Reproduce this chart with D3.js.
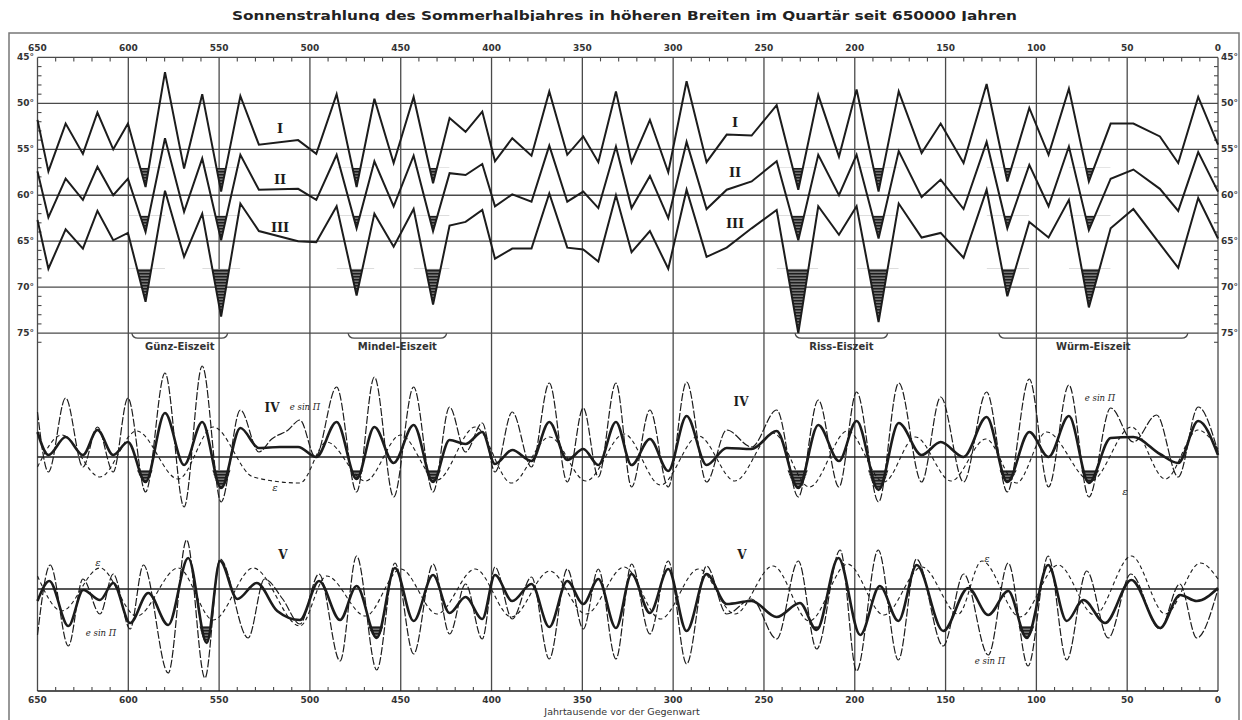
<!DOCTYPE html>
<html><head><meta charset="utf-8">
<script src="https://cdn.jsdelivr.net/npm/d3@7"></script>
<style>body{margin:0;background:#fff}svg{display:block}</style>
</head><body>
<script>
// ages (thousand years before present) of the vertices of curves I-III
const ages = [650,644,634.5,625,617,608.3,600.2,590.5,579.8,569.3,559.3,548.9,538.3,528.1,506.5,496.5,
  485.3,474.3,464.5,453.9,442.9,432.2,423.1,414.3,405.1,398.1,388.6,378.0,368.2,358.3,349.5,341.2,331.5,
  322.9,312.8,302.7,292.6,281.6,270.5,256.8,243.0,231.1,220.1,208.7,199.0,186.9,175.8,
  163.2,152.7,140.1,127.4,116.0,103.9,93.3,82.1,71.1,59.1,46.6,32.0,21.9,10.9,0];
// equivalent latitude of summer radiation, curves I, II, III
const latI = [51.8,57.4,52.2,55.5,51.0,55.0,52.2,59.1,46.6,57.1,49.0,59.6,49.2,54.5,54.0,55.5,
  49.0,59.1,49.5,56.5,49.3,58.7,51.6,53.1,50.9,56.3,53.8,55.7,48.7,55.6,53.6,56.4,48.7,
  56.4,51.8,57.5,47.6,56.4,53.4,53.5,50.2,59.4,49.1,55.8,48.5,59.6,48.7,
  55.4,52.2,56.5,47.9,58.5,50.5,55.6,48.4,58.5,52.2,52.2,53.6,56.5,49.3,54.5];
const latII = [57.4,62.4,58.2,60.5,56.9,60.0,58.2,64.0,53.8,61.8,56.0,64.9,55.6,59.4,59.3,60.5,
  55.6,63.6,56.3,61.2,55.7,63.9,57.6,57.8,56.6,61.2,59.9,60.7,54.6,60.7,59.6,61.4,54.7,
  61.4,57.9,62.5,54.2,61.5,59.4,58.5,56.3,64.9,55.6,60.0,55.6,64.7,55.2,
  60.2,58.3,61.5,54.2,63.6,56.7,61.2,54.7,63.8,58.2,57.2,59.3,61.7,55.3,59.6];
const latIII = [62.7,68.0,63.7,65.8,61.7,64.9,64.1,71.6,59.5,66.7,62.0,73.2,60.9,63.9,65.0,65.1,
  61.2,70.9,62.0,65.6,61.5,71.9,63.3,62.9,61.6,66.9,65.8,65.8,59.8,65.7,65.9,67.2,60.0,
  66.2,63.9,68.0,59.4,66.7,65.7,63.6,61.6,75.0,61.2,64.3,61.2,73.8,60.9,
  64.6,64.1,66.8,59.4,71.0,62.9,64.6,60.5,72.2,63.6,61.5,65.3,67.9,60.3,64.7];
// radiation minima of the ice ages (hatched)
const coldMinima = [590.5,548.9,474.3,432.2,231.1,186.9,116.0,71.1];
const hatchLevel = [57.0, 62.2, 68.0];
const curveNames = ["I","II","III"];

const ageTicks = [650,600,550,500,450,400,350,300,250,200,150,100,50,0];
const latTicks = [45,50,55,60,65,70,75];

const glacials = ["Günz-Eiszeit","Mindel-Eiszeit","Riss-Eiszeit","Würm-Eiszeit"];
const glacialFrom = [598.1,479.0,232.9,120.7];
const glacialTo = [545.3,424.7,181.9,16.6];

// panel IV: combined term (thick), e sin Π term, ε term  — [age, deviation]
const ivCombined = [[650,2.5],[644,0.2],[634.5,2.0],[625,0.2],[617,2.7],[608.3,0.2],[600.2,1.5],[590.5,-2.5],
  [579.8,4.4],[569.3,-0.8],[559.3,3.5],[548.9,-3.1],[538.3,2.9],[528.1,0.9],[516.5,1.0],[506.5,1.0],[496.5,0.0],
  [485.3,3.5],[474.3,-2.2],[464.5,3.0],[453.9,-0.6],[442.9,3.2],[432.2,-2.5],[423.1,1.7],[414.3,1.3],[405.1,2.5],
  [398.1,-0.7],[388.6,0.7],[378.0,-0.4],[368.2,3.5],[358.3,-0.3],[349.5,0.8],[341.2,-0.8],[331.5,3.5],
  [322.9,-0.8],[312.8,1.8],[302.7,-1.4],[292.6,4.1],[281.6,-0.8],[270.5,0.9],[256.8,0.8],[243.0,2.6],
  [231.1,-3.1],[220.1,3.2],[208.7,-0.4],[199.0,3.6],[186.9,-3.3],[175.8,3.4],[163.2,0.2],[152.7,1.5],
  [140.1,0.0],[127.4,4.0],[116.0,-2.5],[103.9,2.5],[93.3,0.0],[82.1,4.1],[71.1,-2.6],[59.1,1.9],[46.6,2.0],
  [32.0,0.3],[21.9,-0.6],[10.9,3.6],[0,0.2]];
const ivEsinPi = [[650,4.5],[644,-1.5],[634.5,5.9],[625,-1.0],[617,3.0],[608.3,-1.5],[600.2,5.9],[590.5,-3.5],
  [579.8,8.4],[569.3,-5.0],[559.3,9.1],[548.9,-4.5],[538.3,4.7],[528.1,0.5],[521,1.8],[512,2.7],[505.5,3.7],
  [497,0.0],[485.3,7.0],[474.3,-3.5],[464.5,8.0],[453.9,-4.0],[442.9,7.0],[432.2,-3.5],[423.1,5.0],[414.3,0.5],
  [405.1,3.4],[398.1,-1.5],[388.6,4.5],[378.0,-1.0],[368.2,7.4],[358.3,-2.5],[349.5,4.9],[341.2,-2.0],
  [331.5,7.4],[322.9,-3.0],[312.8,4.7],[302.7,-3.0],[292.6,7.5],[281.6,-2.5],[270.5,2.7],[256.8,1.0],
  [243.0,4.7],[231.1,-4.0],[220.1,5.7],[208.7,-3.0],[199.0,6.5],[186.9,-4.5],[175.8,7.4],[163.2,-2.5],
  [152.7,6.0],[140.1,-2.5],[127.4,6.5],[116.0,-3.5],[103.9,7.8],[93.3,-3.0],[82.1,7.2],[71.1,-4.0],
  [59.1,4.9],[46.6,1.5],[33.8,4.2],[21.9,-2.0],[10.9,5.0],[0,0.5]];
const ivEps = [[650,-1.0],[636.7,2.2],[615.6,-2.0],[595.4,2.6],[572.5,-2.2],[553.2,3.0],[531.2,-2.0],
  [505.5,-2.6],[490.8,1.5],[469.4,-2.4],[450,2.2],[430,-2.3],[409,3.0],[389,-2.6],[368,2.0],[348,-2.4],
  [327,2.3],[307,-2.8],[286,2.1],[266,-2.4],[245,2.4],[225,-3.0],[204,2.6],[184,-2.5],[166.6,2.0],[147,-2.4],
  [127.8,1.8],[111,-2.6],[94.4,2.5],[70,-2.4],[47.7,3.0],[29,-2.2],[11,2.7],[0,0.8]];

// panel V: combined term (thick), e sin Π term, ε term
const vCombined = [[650,-1.2],[643.5,0.8],[633,-3.7],[624.8,-0.1],[615.6,-1.1],[608.3,0.6],[599,-3.4],
  [589,-0.4],[578,-3.6],[567,3.1],[556.8,-5.4],[549.5,2.8],[540,-1.0],[529.3,0.6],[518,-2.2],[505.5,-3.1],
  [495,0.8],[483.4,-3.1],[474.3,0.3],[463.2,-4.9],[453.2,2.1],[442.9,-3.2],[432.2,1.4],[423.1,-2.4],
  [414.3,-0.8],[405.1,-3.0],[398.1,1.4],[388.6,-1.2],[378.0,0.5],[368.2,-3.8],[358.3,0.8],[349.5,-1.5],
  [341.2,1.0],[331.5,-3.9],[322.9,1.5],[312.8,-2.4],[302.7,2.0],[292.6,-4.2],[281.6,1.5],[270.5,-1.5],
  [256.8,-1.2],[243.0,-2.8],[230.2,-1.4],[221,-4.1],[209,3.1],[197,-4.6],[186.2,0.3],[176,-3.2],[165.9,2.4],
  [151.3,-4.2],[137.5,0.1],[126.5,-2.6],[115.5,-0.2],[105.3,-4.9],[93.5,2.4],[83.3,-3.2],[74.1,-1.1],
  [62.2,-3.4],[47.7,0.9],[31.9,-3.9],[20.9,-0.6],[11.7,-1.2],[0,0.1]];
const vEsinPi = [[650,-4.6],[643,2.4],[633,-5.7],[625,1.0],[615.6,-2.5],[608.3,1.5],[599,-4.0],[591.7,2.4],
  [578,-8.4],[567.9,4.9],[557.8,-8.9],[549.5,3.0],[534,-4.9],[525,1.0],[515,-1.0],[505.5,-3.5],[495,1.5],
  [483.4,-7.2],[474.3,3.3],[463.2,-8.1],[453.2,2.6],[442.9,-6.5],[432.2,2.5],[423.1,-4.5],[414.3,0.5],
  [405.1,-5.0],[398.1,2.2],[388.6,-3.0],[378.0,1.2],[368.2,-7.0],[358.3,2.0],[349.5,-4.0],[341.2,2.0],
  [331.5,-7.0],[322.9,2.5],[312.8,-4.5],[302.7,2.8],[292.6,-7.5],[281.6,2.3],[270.5,-2.5],[256.8,-1.0],
  [243.0,-5.0],[231.1,2.8],[221,-6.0],[208,3.9],[199,-8.2],[187.1,3.9],[176,-7.1],[166,3.0],[151.3,-5.7],
  [140,1.5],[126.5,-6.6],[115.5,2.6],[104.6,-7.7],[93.5,3.3],[83.3,-7.1],[72.3,1.8],[60.4,-4.9],[48,1.5],
  [32,-4.0],[21,0.5],[11.7,-4.9],[0,0.0]];
const vEps = [[650,1.3],[636.7,-2.2],[615.6,2.1],[595.4,-2.7],[572.5,2.1],[553.2,-3.1],[531.2,2.1],
  [505.5,-3.7],[490.8,1.3],[469.4,-2.7],[450,2.0],[430,-2.5],[409,2.0],[389,-2.8],[368,1.8],[348,-2.5],
  [327,2.2],[307,-3.0],[286,2.0],[266,-2.5],[245,2.3],[225,-3.2],[204,2.5],[184,-2.6],[163,2.2],[143,-2.5],
  [130,2.8],[109,-2.8],[88,2.4],[68,-2.6],[47.7,3.3],[29,-2.5],[9.7,2.6],[0,1.0]];
const vColdMinima = [556.8,463.2,221,105.3];
const ivHatchLevel = -1.3, vHatchLevel = -3.7;

const W = 1242, H = 720;
const svg = d3.select("body").append("svg").attr("width", W).attr("height", H)
  .style("font-family", "'DejaVu Sans', sans-serif");

const x = d3.scaleLinear().domain([650, 0]).range([37.5, 1218]);
const yLat = d3.scaleLinear().domain([45, 75]).range([57.4, 333.1]);
const yIV = d3.scaleLinear().domain([-10, 10]).range([557, 357]);
const yV = d3.scaleLinear().domain([-10, 10]).range([689, 489]);
const yBottom = 691;
const ink = "#1c1c1c", grid = "#4a4a4a";

// hatch pattern for the cold minima
const defs = svg.append("defs");
const pat = defs.append("pattern").attr("id", "hatch").attr("patternUnits", "userSpaceOnUse")
  .attr("width", 6).attr("height", 3);
pat.append("rect").attr("width", 6).attr("height", 3).attr("fill", "#777");
pat.append("rect").attr("width", 6).attr("height", 1.5).attr("fill", "#1e1e1e");

// outer frame
svg.append("rect").attr("x", 9).attr("y", 33).attr("width", 1230).attr("height", 700)
  .attr("fill", "none").attr("stroke", "#777").attr("stroke-width", 1.5);

// title
defs.append("clipPath").attr("id", "titleClip").append("rect")
  .attr("x", 0).attr("y", 0).attr("width", W).attr("height", 21);
svg.append("text").attr("x", 232).attr("y", 20).attr("clip-path", "url(#titleClip)")
  .attr("textLength", 785).attr("lengthAdjust", "spacingAndGlyphs")
  .style("font-size", "13px").style("font-weight", "600").attr("fill", "#222")
  .text("Sonnenstrahlung des Sommerhalbjahres in höheren Breiten im Quartär seit 650000 Jahren");

const g = svg.append("g");

// vertical grid lines every 50 000 years
g.selectAll("line.v").data(ageTicks).join("line")
  .attr("x1", d => x(d)).attr("x2", d => x(d)).attr("y1", yLat(45)).attr("y2", yBottom)
  .attr("stroke", grid).attr("stroke-width", 1.3);
// latitude lines
g.selectAll("line.h").data(latTicks).join("line")
  .attr("x1", x(650)).attr("x2", x(0)).attr("y1", d => yLat(d)).attr("y2", d => yLat(d))
  .attr("stroke", grid).attr("stroke-width", 1.3);
// zero lines of IV and V, bottom axis
[yIV(0), yV(0), yBottom].forEach(yy => g.append("line").attr("x1", x(650)).attr("x2", x(0))
  .attr("y1", yy).attr("y2", yy).attr("stroke", ink).attr("stroke-width", 1.4));

// minor ticks
const minorAges = d3.range(640, 0, -10).filter(d => d % 50 !== 0);
g.selectAll("line.tt").data(minorAges).join("line")
  .attr("x1", d => x(d)).attr("x2", d => x(d)).attr("y1", yLat(45)).attr("y2", yLat(45) + 4)
  .attr("stroke", grid).attr("stroke-width", 1.1);
g.selectAll("line.tb").data(minorAges).join("line")
  .attr("x1", d => x(d)).attr("x2", d => x(d)).attr("y1", yBottom).attr("y2", yBottom - 4)
  .attr("stroke", grid).attr("stroke-width", 1.1);
const minorLat = d3.range(46, 77).filter(d => d % 5 !== 0);
g.selectAll("line.tl").data(minorLat).join("line")
  .attr("x1", x(650)).attr("x2", x(650) + 4).attr("y1", d => yLat(d)).attr("y2", d => yLat(d))
  .attr("stroke", grid).attr("stroke-width", 1.1);
g.selectAll("line.tr").data(minorLat).join("line")
  .attr("x1", x(0) - 4).attr("x2", x(0)).attr("y1", d => yLat(d)).attr("y2", d => yLat(d))
  .attr("stroke", grid).attr("stroke-width", 1.1);

// age labels, top and bottom
const labStyle = sel => sel.style("font-size", "9px").attr("fill", "#333").style("font-weight", "bold");
g.selectAll("text.at").data(ageTicks).join("text").attr("x", d => x(d)).attr("y", 51)
  .attr("text-anchor", "middle").text(d => d).call(labStyle);
g.selectAll("text.ab").data(ageTicks).join("text").attr("x", d => x(d)).attr("y", 703)
  .attr("text-anchor", "middle").text(d => d).call(labStyle);
g.selectAll("text.ll").data(latTicks).join("text").attr("x", 34).attr("y", d => yLat(d) + 3)
  .attr("text-anchor", "end").text(d => d + "°").call(labStyle);
g.selectAll("text.lr").data(latTicks).join("text").attr("x", 1221).attr("y", d => yLat(d) + 3)
  .attr("text-anchor", "start").text(d => d + "°").call(labStyle);
svg.append("text").attr("x", 622).attr("y", 715).attr("text-anchor", "middle")
  .style("font-size", "9.5px").attr("fill", "#333").text("Jahrtausende vor der Gegenwart");

// glacial brackets
glacials.forEach((name, i) => {
  const x1 = x(glacialFrom[i]), x2 = x(glacialTo[i]), y0 = yLat(75), y1 = y0 + 5;
  g.append("path").attr("d", `M${x1},${y0}Q${x1 + 1},${y1} ${x1 + 6},${y1}L${x2 - 6},${y1}Q${x2 - 1},${y1} ${x2},${y0}`)
    .attr("fill", "none").attr("stroke", grid).attr("stroke-width", 1.3);
  g.append("text").attr("x", (x1 + x2) / 2).attr("y", y0 + 17).attr("text-anchor", "middle")
    .style("font-size", "10px").style("font-weight", "600").attr("fill", "#333").text(name);
});

// hatched trough: area between a level and the curve, clipped to the neighbouring extrema
let clipId = 0;
function hatchTrough(pts, i, xs, ys, level, curve) {
  const id = "clip" + (clipId++);
  defs.append("clipPath").attr("id", id).append("rect")
    .attr("x", xs(pts[i - 1][0])).attr("width", xs(pts[i + 1][0]) - xs(pts[i - 1][0]))
    .attr("y", ys(level)).attr("height", 80);
  g.append("path").datum(pts.slice(i - 1, i + 2)).attr("clip-path", `url(#${id})`)
    .attr("fill", "url(#hatch)")
    .attr("d", d3.area().curve(curve).x(d => xs(d[0])).y0(ys(level)).y1(d => ys(d[1])));
}

// curves I - III with hatched cold minima
const series = [latI, latII, latIII];
series.forEach((vals, k) => {
  const pts = ages.map((a, i) => [a, vals[i]]);
  coldMinima.forEach(m => hatchTrough(pts, ages.indexOf(m), x, yLat, hatchLevel[k], d3.curveLinear));
  g.append("path").datum(pts).attr("fill", "none").attr("stroke", ink).attr("stroke-width", 2)
    .attr("d", d3.line().x(d => x(d[0])).y(d => yLat(d[1])));
});
// curve numerals
const numeralX = [280, 735];
const numeralY = [[133, 184, 232], [127, 177, 228]];
numeralX.forEach((nx, s) => curveNames.forEach((n, k) => g.append("text").attr("x", nx).attr("y", numeralY[s][k])
  .attr("text-anchor", "middle").style("font-family", "'DejaVu Serif', serif").style("font-size", "13px")
  .style("font-weight", "bold").attr("fill", ink).text(n)));

// panels IV and V
const smooth = d3.curveMonotoneX;
function wave(pts, ys, width, dash) {
  g.append("path").datum(pts).attr("fill", "none").attr("stroke", ink).attr("stroke-width", width)
    .attr("stroke-dasharray", dash)
    .attr("d", d3.line().curve(smooth).x(d => x(d[0])).y(d => ys(d[1])));
}
coldMinima.forEach(m => hatchTrough(ivCombined, ivCombined.findIndex(d => d[0] === m), x, yIV, ivHatchLevel, smooth));
vColdMinima.forEach(m => hatchTrough(vCombined, vCombined.findIndex(d => d[0] === m), x, yV, vHatchLevel, smooth));
wave(ivEps, yIV, 1.1, "4,3");
wave(ivEsinPi, yIV, 1.2, "8,2");
wave(ivCombined, yIV, 2.6, null);
wave(vEps, yV, 1.1, "4,3");
wave(vEsinPi, yV, 1.2, "8,2");
wave(vCombined, yV, 2.6, null);

// panel labels
const roman = (t, px, py) => g.append("text").attr("x", px).attr("y", py).attr("text-anchor", "middle")
  .style("font-family", "'DejaVu Serif', serif").style("font-size", "12px").style("font-weight", "bold")
  .attr("fill", ink).text(t);
const note = (t, px, py, fs) => g.append("text").attr("x", px).attr("y", py).attr("text-anchor", "middle")
  .style("font-family", "'DejaVu Serif', serif").style("font-size", fs + "px").style("font-style", "italic")
  .attr("fill", ink).text(t);
roman("IV", 272, 412); roman("IV", 741, 406); roman("V", 283, 559); roman("V", 742, 559);
note("e sin Π", 305, 410, 8.5); note("e sin Π", 1100, 401, 8.5); note("ε", 275, 491, 10); note("ε", 1125, 495, 10);
note("ε", 98, 566, 10); note("ε", 987, 562, 10); note("e sin Π", 101, 636, 8.5); note("e sin Π", 990, 664, 8.5);
</script>
</body></html>
